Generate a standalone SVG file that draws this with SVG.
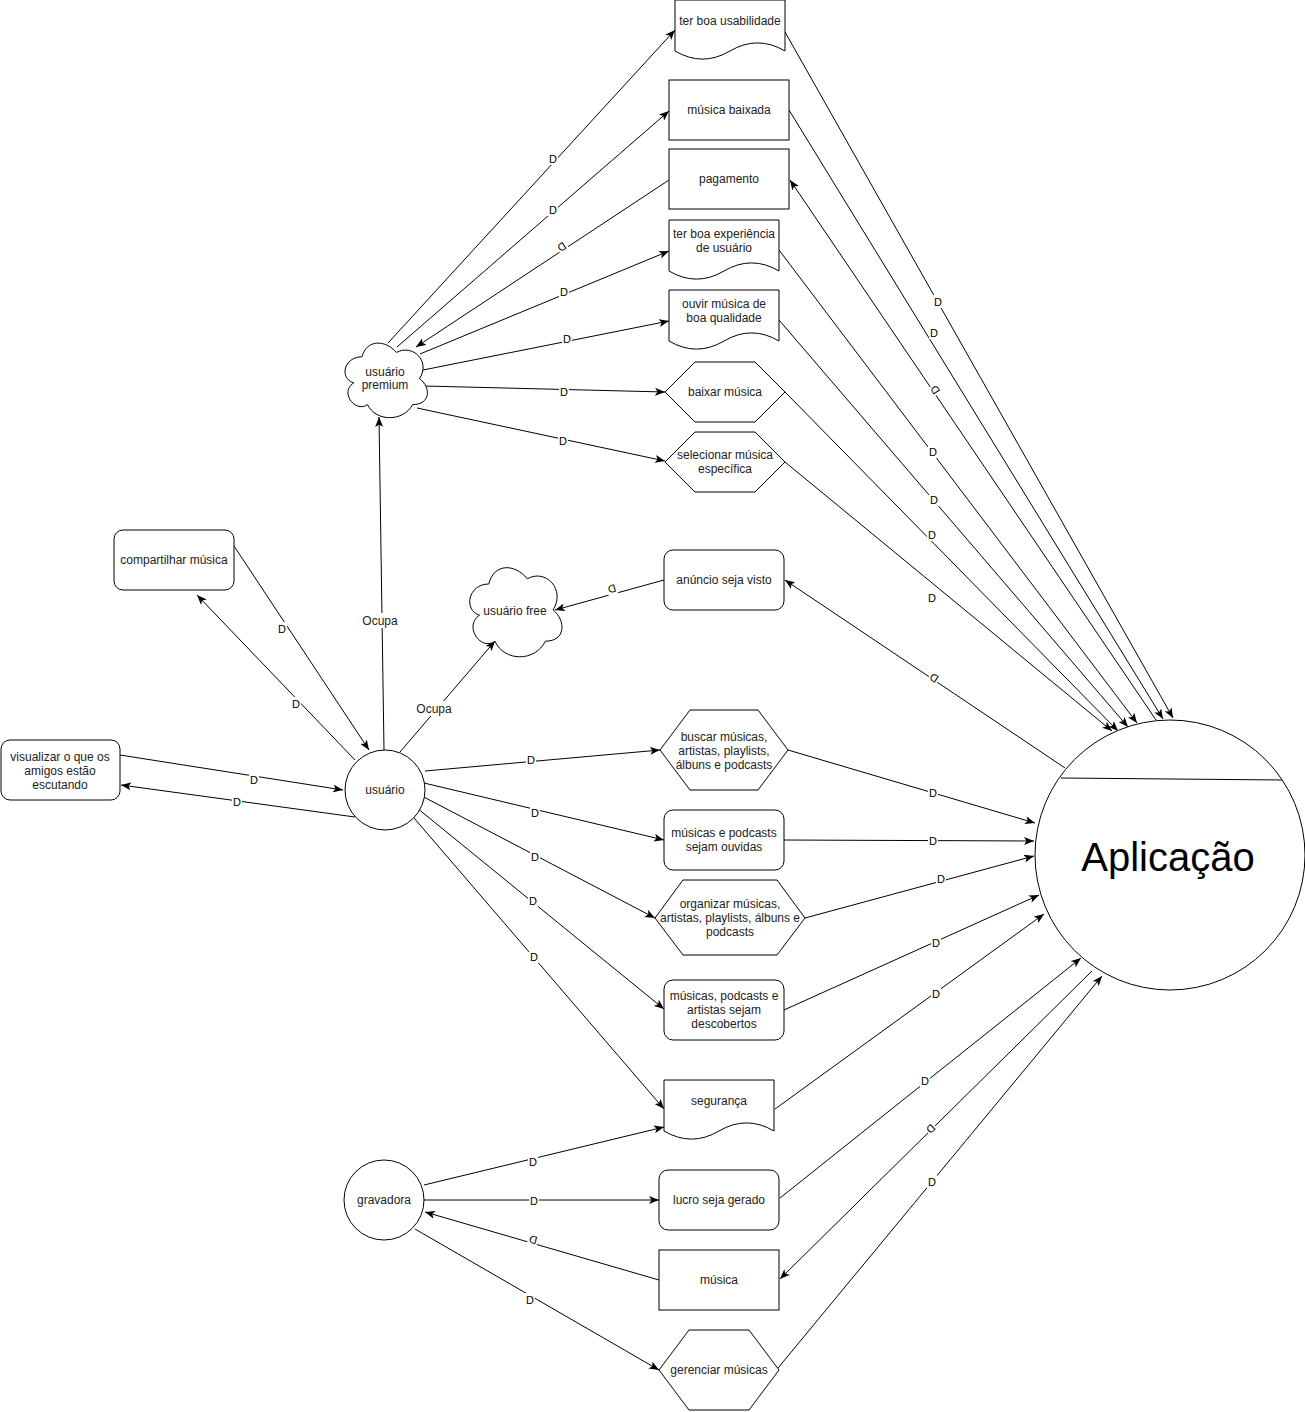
<svg xmlns="http://www.w3.org/2000/svg" width="1305" height="1412" viewBox="0 0 1305 1412">
<style>
.n{fill:#fff;stroke:#000;stroke-width:1}
.t{font-family:"Liberation Sans",Arial,sans-serif;font-size:12px;fill:#222;text-anchor:middle}
.big{font-family:"Liberation Sans",Arial,sans-serif;font-size:40px;fill:#000;text-anchor:middle}
.e{fill:none;stroke:#000;stroke-width:1}
.ea{fill:none;stroke:#000;stroke-width:1;marker-end:url(#arr)}
.lb rect{fill:#fff}
.lb text{font-family:"Liberation Sans",Arial,sans-serif;font-size:11px;fill:#000;text-anchor:middle}
.ol rect{fill:#fff}
.ol text{font-family:"Liberation Sans",Arial,sans-serif;font-size:12px;fill:#222;text-anchor:middle}
</style>
<defs>
<marker id="arr" viewBox="0 0 10 8" refX="10" refY="4" markerWidth="10" markerHeight="8" markerUnits="userSpaceOnUse" orient="auto">
<path d="M0,0 L10,4 L0,8 L2.5,4 Z" fill="#000"/>
</marker>
</defs>
<rect width="1305" height="1412" fill="#fff"/>

<g id="connectors">
<!-- usuario premium -->
<line class="ea" x1="388" y1="343" x2="675" y2="30"/>
<line class="ea" x1="397" y1="347" x2="669" y2="111"/>
<line class="ea" x1="669" y1="180" x2="416" y2="347"/>
<line class="ea" x1="420" y1="354" x2="669" y2="251"/>
<line class="ea" x1="423" y1="370" x2="669" y2="321"/>
<line class="ea" x1="424" y1="386" x2="665" y2="392"/>
<line class="ea" x1="417" y1="408" x2="665" y2="461"/>
<!-- usuario -->
<line class="ea" x1="384" y1="750" x2="379" y2="417"/>
<line class="ea" x1="400" y1="752" x2="495" y2="641"/>
<line class="ea" x1="234" y1="546" x2="369" y2="750"/>
<line class="ea" x1="355" y1="760" x2="197" y2="595"/>
<line class="ea" x1="120" y1="755" x2="343" y2="790"/>
<line class="ea" x1="355" y1="817" x2="121" y2="785"/>
<line class="ea" x1="425" y1="771" x2="660" y2="750"/>
<line class="ea" x1="424" y1="783" x2="664" y2="840"/>
<line class="ea" x1="420" y1="795" x2="655" y2="918"/>
<line class="ea" x1="417" y1="808" x2="664" y2="1009"/>
<line class="ea" x1="414" y1="818" x2="664" y2="1109"/>
<!-- free -->
<line class="ea" x1="664" y1="580" x2="555" y2="610"/>
<!-- gravadora -->
<line class="ea" x1="424" y1="1185" x2="664" y2="1127"/>
<line class="ea" x1="424" y1="1200" x2="659" y2="1200"/>
<line class="ea" x1="659" y1="1280" x2="425" y2="1212"/>
<line class="ea" x1="415" y1="1229" x2="659" y2="1370"/>
<!-- to Aplicacao (top) -->
<line class="ea" x1="785" y1="32" x2="1173" y2="718"/>
<line class="ea" x1="789" y1="110" x2="1163" y2="719"/>
<line class="ea" x1="1156" y1="720" x2="790" y2="180"/>
<line class="ea" x1="779" y1="250" x2="1137" y2="723"/>
<line class="ea" x1="779" y1="320" x2="1128" y2="727"/>
<line class="ea" x1="785" y1="392" x2="1118" y2="731"/>
<line class="ea" x1="785" y1="462" x2="1112" y2="731"/>
<line class="ea" x1="1065" y1="768" x2="785" y2="580"/>
<!-- to Aplicacao (left) -->
<line class="ea" x1="788" y1="750" x2="1035" y2="823"/>
<line class="ea" x1="784" y1="840" x2="1034" y2="841"/>
<line class="ea" x1="805" y1="918" x2="1034" y2="856"/>
<line class="ea" x1="784" y1="1010" x2="1039" y2="895"/>
<line class="ea" x1="775" y1="1109" x2="1044" y2="914"/>
<line class="ea" x1="780" y1="1198" x2="1081" y2="958"/>
<line class="ea" x1="1092" y1="971" x2="780" y2="1279"/>
<line class="ea" x1="778" y1="1368" x2="1102" y2="976"/>

<!-- labels -->
<g class="lb" transform="translate(553,159)"><rect x="-5" y="-7" width="10" height="13"/><text y="4">D</text></g>
<g class="lb" transform="translate(553,210)"><rect x="-5" y="-7" width="10" height="13"/><text y="4">D</text></g>
<g class="lb" transform="translate(562,247) rotate(146)"><rect x="-5" y="-7" width="10" height="13"/><text y="4">D</text></g>
<g class="lb" transform="translate(564,292)"><rect x="-5" y="-7" width="10" height="13"/><text y="4">D</text></g>
<g class="lb" transform="translate(567,339)"><rect x="-5" y="-7" width="10" height="13"/><text y="4">D</text></g>
<g class="lb" transform="translate(564,392)"><rect x="-5" y="-7" width="10" height="13"/><text y="4">D</text></g>
<g class="lb" transform="translate(563,441)"><rect x="-5" y="-7" width="10" height="13"/><text y="4">D</text></g>
<g class="ol" transform="translate(380,621)"><rect x="-18" y="-8" width="36" height="15"/><text y="4">Ocupa</text></g>
<g class="ol" transform="translate(434,709)"><rect x="-18" y="-8" width="36" height="15"/><text y="4">Ocupa</text></g>
<g class="lb" transform="translate(282,629)"><rect x="-5" y="-7" width="10" height="13"/><text y="4">D</text></g>
<g class="lb" transform="translate(296,704)"><rect x="-5" y="-7" width="10" height="13"/><text y="4">D</text></g>
<g class="lb" transform="translate(254,780)"><rect x="-5" y="-7" width="10" height="13"/><text y="4">D</text></g>
<g class="lb" transform="translate(237,802)"><rect x="-5" y="-7" width="10" height="13"/><text y="4">D</text></g>
<g class="lb" transform="translate(531,760)"><rect x="-5" y="-7" width="10" height="13"/><text y="4">D</text></g>
<g class="lb" transform="translate(535,813)"><rect x="-5" y="-7" width="10" height="13"/><text y="4">D</text></g>
<g class="lb" transform="translate(535,857)"><rect x="-5" y="-7" width="10" height="13"/><text y="4">D</text></g>
<g class="lb" transform="translate(533,901)"><rect x="-5" y="-7" width="10" height="13"/><text y="4">D</text></g>
<g class="lb" transform="translate(534,957)"><rect x="-5" y="-7" width="10" height="13"/><text y="4">D</text></g>
<g class="lb" transform="translate(612,589) rotate(164.5)"><rect x="-5" y="-7" width="10" height="13"/><text y="4">D</text></g>
<g class="lb" transform="translate(533,1162)"><rect x="-5" y="-7" width="10" height="13"/><text y="4">D</text></g>
<g class="lb" transform="translate(534,1201)"><rect x="-5" y="-7" width="10" height="13"/><text y="4">D</text></g>
<g class="lb" transform="translate(533,1240) rotate(196)"><rect x="-5" y="-7" width="10" height="13"/><text y="4">D</text></g>
<g class="lb" transform="translate(530,1300)"><rect x="-5" y="-7" width="10" height="13"/><text y="4">D</text></g>
<g class="lb" transform="translate(938,302)"><rect x="-5" y="-7" width="10" height="13"/><text y="4">D</text></g>
<g class="lb" transform="translate(934,333)"><rect x="-5" y="-7" width="10" height="13"/><text y="4">D</text></g>
<g class="lb" transform="translate(935,390) rotate(236)"><rect x="-5" y="-7" width="10" height="13"/><text y="4">D</text></g>
<g class="lb" transform="translate(933,452)"><rect x="-5" y="-7" width="10" height="13"/><text y="4">D</text></g>
<g class="lb" transform="translate(934,500)"><rect x="-5" y="-7" width="10" height="13"/><text y="4">D</text></g>
<g class="lb" transform="translate(932,535)"><rect x="-5" y="-7" width="10" height="13"/><text y="4">D</text></g>
<g class="lb" transform="translate(932,598)"><rect x="-5" y="-7" width="10" height="13"/><text y="4">D</text></g>
<g class="lb" transform="translate(934,678) rotate(214)"><rect x="-5" y="-7" width="10" height="13"/><text y="4">D</text></g>
<g class="lb" transform="translate(933,793)"><rect x="-5" y="-7" width="10" height="13"/><text y="4">D</text></g>
<g class="lb" transform="translate(933,841)"><rect x="-5" y="-7" width="10" height="13"/><text y="4">D</text></g>
<g class="lb" transform="translate(941,879)"><rect x="-5" y="-7" width="10" height="13"/><text y="4">D</text></g>
<g class="lb" transform="translate(936,943)"><rect x="-5" y="-7" width="10" height="13"/><text y="4">D</text></g>
<g class="lb" transform="translate(936,994)"><rect x="-5" y="-7" width="10" height="13"/><text y="4">D</text></g>
<g class="lb" transform="translate(925,1081)"><rect x="-5" y="-7" width="10" height="13"/><text y="4">D</text></g>
<g class="lb" transform="translate(931,1129) rotate(135.6)"><rect x="-5" y="-7" width="10" height="13"/><text y="4">D</text></g>
<g class="lb" transform="translate(932,1182)"><rect x="-5" y="-7" width="10" height="13"/><text y="4">D</text></g>
</g>

<!-- nodes -->
<g id="ter-boa-usabilidade"><path class="n" d="M675,0 H785 V51 Q757.5,34.8 730,51 Q702.5,67.2 675,51 Z"/><text class="t" x="730" y="25">ter boa usabilidade</text></g>
<g id="musica-baixada"><rect class="n" x="669" y="80" width="120" height="60"/><text class="t" x="729" y="114">música baixada</text></g>
<g id="pagamento"><rect class="n" x="669" y="149" width="120" height="60"/><text class="t" x="729" y="183">pagamento</text></g>
<g id="ter-boa-experiencia"><path class="n" d="M669,220 H779 V271 Q751.5,254.8 724,271 Q696.5,287.2 669,271 Z"/><text class="t" x="724" y="238">ter boa experiência</text><text class="t" x="724" y="252">de usuário</text></g>
<g id="ouvir-musica"><path class="n" d="M669,290 H779 V341 Q751.5,324.8 724,341 Q696.5,357.2 669,341 Z"/><text class="t" x="724" y="308">ouvir música de</text><text class="t" x="724" y="322">boa qualidade</text></g>
<g id="baixar-musica"><polygon class="n" points="665,392 695,362 755,362 785,392 755,422 695,422"/><text class="t" x="725" y="396">baixar música</text></g>
<g id="selecionar-musica"><polygon class="n" points="665,462 695,432 755,432 785,462 755,492 695,492"/><text class="t" x="725" y="459">selecionar música</text><text class="t" x="725" y="473">específica</text></g>
<g id="usuario-premium"><path class="n" d="M362,356.75 C343.6,356.75 339,378.5 353.72,382.85 C339,392.42 355.56,413.3 367.52,404.6 C375.8,422 403.4,422 412.6,404.6 C431,404.6 431,387.2 419.5,378.5 C431,361.1 412.6,343.7 396.5,352.4 C385,339.35 366.6,339.35 362,356.75 Z"/><text class="t" x="385" y="376">usuário</text><text class="t" x="385" y="389">premium</text></g>
<g id="compartilhar-musica"><rect class="n" x="114" y="530" width="120" height="60" rx="9"/><text class="t" x="174" y="564">compartilhar música</text></g>
<g id="anuncio-seja-visto"><rect class="n" x="664" y="550" width="120" height="60" rx="9"/><text class="t" x="724" y="584">anúncio seja visto</text></g>
<g id="usuario-free"><path class="n" d="M488.75,584 C468.15,584 463,610 479.48,615.2 C463,626.64 481.54,651.6 494.93,641.2 C504.2,662 535.1,662 545.4,641.2 C566,641.2 566,620.4 553.125,610 C566,589.2 545.4,568.4 527.375,578.8 C514.5,563.2 493.9,563.2 488.75,584 Z"/><text class="t" x="515" y="615">usuário free</text></g>
<g id="visualizar"><rect class="n" x="1" y="740" width="119" height="60" rx="9"/><text class="t" x="60" y="761">visualizar o que os</text><text class="t" x="60" y="775">amigos estão</text><text class="t" x="60" y="789">escutando</text></g>
<g id="usuario"><circle class="n" cx="385" cy="790" r="40"/><text class="t" x="385" y="794">usuário</text></g>
<g id="buscar"><polygon class="n" points="660,750 690,710 758,710 788,750 758,790 690,790"/><text class="t" x="724" y="741">buscar músicas,</text><text class="t" x="724" y="755">artistas, playlists,</text><text class="t" x="724" y="769">álbuns e podcasts</text></g>
<g id="ouvidas"><rect class="n" x="664" y="810" width="120" height="60" rx="9"/><text class="t" x="724" y="837">músicas e podcasts</text><text class="t" x="724" y="851">sejam ouvidas</text></g>
<g id="organizar"><polygon class="n" points="655,918 683,880 777,880 805,918 777,955 683,955"/><text class="t" x="730" y="908">organizar músicas,</text><text class="t" x="730" y="922">artistas, playlists, álbuns e</text><text class="t" x="730" y="936">podcasts</text></g>
<g id="descobertos"><rect class="n" x="664" y="980" width="120" height="60" rx="9"/><text class="t" x="724" y="1000">músicas, podcasts e</text><text class="t" x="724" y="1014">artistas sejam</text><text class="t" x="724" y="1028">descobertos</text></g>
<g id="seguranca"><path class="n" d="M664,1080 H774 V1131 Q746.5,1114.8 719,1131 Q691.5,1147.2 664,1131 Z"/><text class="t" x="719" y="1105">segurança</text></g>
<g id="gravadora"><circle class="n" cx="384" cy="1200" r="40"/><text class="t" x="384" y="1204">gravadora</text></g>
<g id="lucro"><rect class="n" x="659" y="1170" width="120" height="60" rx="9"/><text class="t" x="719" y="1204">lucro seja gerado</text></g>
<g id="musica"><rect class="n" x="659" y="1250" width="120" height="60"/><text class="t" x="719" y="1284">música</text></g>
<g id="gerenciar"><polygon class="n" points="659,1370 689,1330 749,1330 779,1370 749,1410 689,1410"/><text class="t" x="719" y="1374">gerenciar músicas</text></g>
<g id="aplicacao"><circle class="n" cx="1170" cy="855" r="135"/><line class="e" x1="1061" y1="778" x2="1282" y2="780"/><text class="big" x="1168" y="871">Aplicação</text></g>
</svg>
